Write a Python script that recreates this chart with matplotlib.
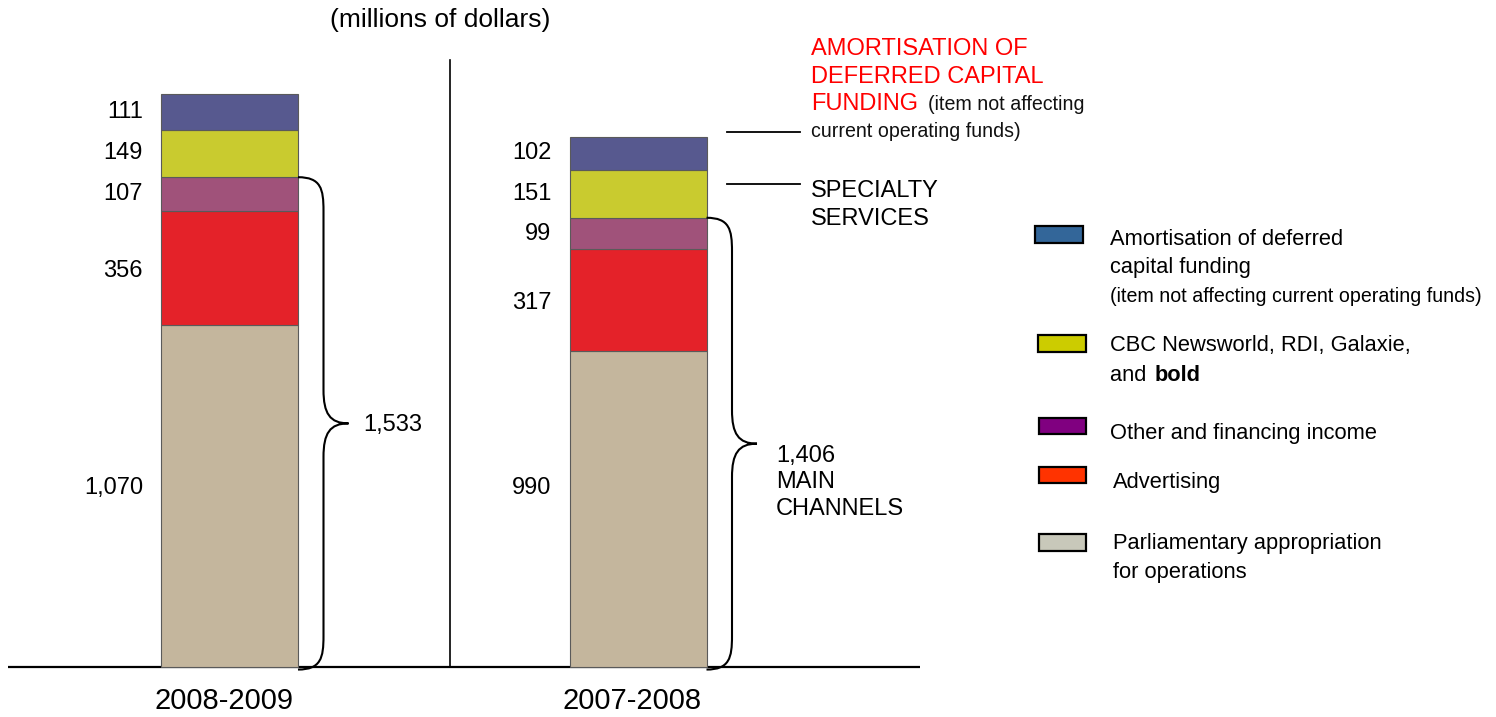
import matplotlib
matplotlib.use("Agg")
import matplotlib.pyplot as plt
from matplotlib.patches import Rectangle, PathPatch
from matplotlib.path import Path
from matplotlib.lines import Line2D
from matplotlib import font_manager

# ---------------- data ----------------
years = ["2008-2009", "2007-2008"]
segments = ["Parliamentary appropriation for operations", "Advertising",
            "Other and financing income", "CBC Newsworld, RDI, Galaxie, and bold",
            "Amortisation of deferred capital funding"]
values_2008_2009 = [1070, 356, 107, 149, 111]
values_2007_2008 = [990, 317, 99, 151, 102]
series = [values_2008_2009, values_2007_2008]
main_channel_count = 3  # first three segments = main channels

bar_colors = ["#C4B69D", "#E42229", "#A0527A", "#C9CB2F", "#57598F"]
legend_colors = ["#C8C8BA", "#FF3300", "#800080", "#CCCC00", "#336699"]

# ---------------- fonts ----------------
avail = {f.name for f in font_manager.fontManager.ttflist}
REG = ["Liberation Sans", "DejaVu Sans"]
HAS_NARROW = "Liberation Sans Narrow" in avail
NAR = (["Liberation Sans Narrow"] if HAS_NARROW else []) + ["Liberation Sans", "DejaVu Sans"]
NS = 1.0 if HAS_NARROW else 0.83   # size factor to mimic a narrow face
plt.rcParams["font.family"] = REG

W, H, DPI = 1496, 717, 100
fig = plt.figure(figsize=(W / DPI, H / DPI), dpi=DPI)
ax = fig.add_axes([0, 0, 1, 1])
ax.axis("off")

PX_X = 408.5          # pixels per category unit
X0 = 229.5            # pixel x of first bar centre
PX_Y = 0.3195         # pixels per million
BASE = 667            # pixel y of baseline (from top)
ax.set_xlim(-X0 / PX_X, (W - X0) / PX_X)
ax.set_ylim(-(H - BASE) / PX_Y, BASE / PX_Y)

def xd(px):
    return (px - X0) / PX_X

def yd(py):
    return (BASE - py) / PX_Y

def ftext(x, y, s, **kw):
    return fig.text(x / W, 1 - y / H, s, **kw)

bar_w = 137 / PX_X

# axis and separator
ax.plot([xd(8), xd(920)], [0, 0], color="black", lw=1.6, zorder=1, solid_capstyle="butt")
ax.plot([xd(450), xd(450)], [0, yd(60)], color="black", lw=1.2, zorder=1)

BASE_LABEL_Y = 560

for i, vals in enumerate(series):
    bottom = 0
    for j, v in enumerate(vals):
        ax.bar(i, v, width=bar_w, bottom=bottom, color=bar_colors[j],
               edgecolor="#5a5a5a", linewidth=0.8, zorder=2)
        cy = bottom + v / 2 if j > 0 else max(bottom + v / 2, BASE_LABEL_Y)
        if j == 1:
            cy -= 10
        ax.text(i - bar_w / 2 - 18 / PX_X, cy, f"{v:,}", ha="right", va="center",
                fontsize=17, family=REG)
        bottom += v

    # brace for main channels
    top = sum(vals[:main_channel_count])
    xl = i + bar_w / 2
    dv = 25.5 / PX_X
    dt = 50.5 / PX_X
    r = 105
    ylo = -8
    ym = (ylo + top) / 2
    verts = [
        (xl, top),
        (xl + dv * 0.9, top), (xl + dv, top - r * 0.35), (xl + dv, top - r),
        (xl + dv, ym + r),
        (xl + dv, ym + r * 0.3), (xl + dv + (dt - dv) * 0.25, ym), (xl + dt, ym),
        (xl + dv + (dt - dv) * 0.25, ym), (xl + dv, ym - r * 0.3), (xl + dv, ym - r),
        (xl + dv, ylo + r),
        (xl + dv, ylo + r * 0.35), (xl + dv * 0.9, ylo), (xl, ylo),
    ]
    codes = [Path.MOVETO,
             Path.CURVE4, Path.CURVE4, Path.CURVE4,
             Path.LINETO,
             Path.CURVE4, Path.CURVE4, Path.CURVE4,
             Path.CURVE4, Path.CURVE4, Path.CURVE4,
             Path.LINETO,
             Path.CURVE4, Path.CURVE4, Path.CURVE4]
    ax.add_patch(PathPatch(Path(verts, codes), facecolor="none", edgecolor="black",
                           lw=1.5, zorder=3))

    # category label
    ax.text(i - 6 / PX_X, yd(709), years[i], ha="center", va="baseline",
            fontsize=21, family=REG)

# totals
tot0 = sum(values_2008_2009[:main_channel_count])
tot1 = sum(values_2007_2008[:main_channel_count])
ftext(363, 425, f"{tot0:,}", ha="left", va="center", fontsize=17, family=REG)
ftext(776, 462, f"{tot1:,}", ha="left", va="baseline", fontsize=17, family=REG)
ftext(776, 488, "MAIN", ha="left", va="baseline", fontsize=17, family=REG)
ftext(776, 515, "CHANNELS", ha="left", va="baseline", fontsize=17, family=REG)

# title
ftext(440, 27, "(millions of dollars)", ha="center", va="baseline", fontsize=19, family=REG)

# annotations at right of bar 2
red = "#FF0000"
SN = 17 * NS
ftext(811, 55, "AMORTISATION OF", color=red, va="baseline", fontsize=17, family=REG)
ftext(811, 83, "DEFERRED CAPITAL", color=red, va="baseline", fontsize=17, family=REG)
ftext(811, 110, "FUNDING", color=red, va="baseline", fontsize=17, family=REG)
ftext(928, 110, "(item not affecting", color="#111111", va="baseline", fontsize=SN, family=NAR)
ftext(811, 137, "current operating funds)", color="#111111", va="baseline", fontsize=SN, family=NAR)
ftext(811, 197, "SPECIALTY", va="baseline", fontsize=17, family=REG)
ftext(811, 225, "SERVICES", va="baseline", fontsize=17, family=REG)
for yy in (131.5, 184):
    fig.add_artist(Line2D([727 / W, 800 / W], [1 - yy / H, 1 - yy / H],
                          transform=fig.transFigure, color="black", lw=1.3))

# legend (drawn top to bottom)
leg_rects = [(1035, 226, 1083, 243), (1038, 335, 1086, 352), (1039, 418, 1086, 434),
             (1039, 467, 1086, 483), (1039, 534, 1086, 551)]
leg_cols = legend_colors[::-1]
for (x1, y1, x2, y2), c in zip(leg_rects, leg_cols):
    fig.add_artist(Rectangle((x1 / W, 1 - y2 / H), (x2 - x1) / W, (y2 - y1) / H,
                             transform=fig.transFigure, facecolor=c,
                             edgecolor="black", lw=1.6))

LF = 19 * NS
ftext(1110, 245, "Amortisation of deferred", va="baseline", fontsize=LF, family=NAR)
ftext(1110, 273, "capital funding", va="baseline", fontsize=LF, family=NAR)
ftext(1110, 302, "(item not affecting current operating funds)", va="baseline", fontsize=SN, family=NAR)
ftext(1110, 351, "CBC Newsworld, RDI, Galaxie,", va="baseline", fontsize=LF, family=NAR)
t_and = ftext(1110, 381, "and ", va="baseline", fontsize=LF, family=NAR)
fig.canvas.draw()
ext = t_and.get_window_extent(fig.canvas.get_renderer())
ftext(ext.x1 + 2, 381, "bold", va="baseline", fontsize=LF, family=NAR, fontweight="bold")
ftext(1110, 439, "Other and financing income", va="baseline", fontsize=LF, family=NAR)
ftext(1113, 488, "Advertising", va="baseline", fontsize=LF, family=NAR)
ftext(1113, 549, "Parliamentary appropriation", va="baseline", fontsize=LF, family=NAR)
ftext(1113, 578, "for operations", va="baseline", fontsize=LF, family=NAR)

fig.savefig("out.png", dpi=DPI, facecolor="white")
